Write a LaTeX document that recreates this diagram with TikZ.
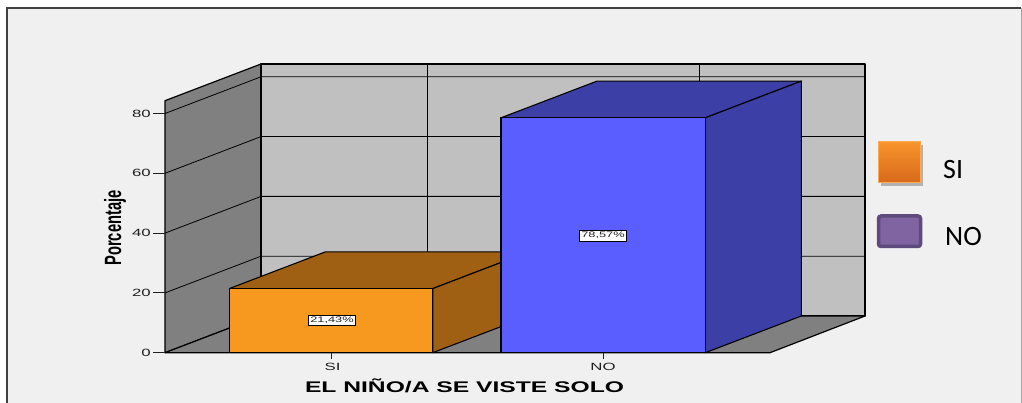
\documentclass[tikz,border=0pt]{standalone}
\usepackage{fontspec}
\setmainfont{Liberation Sans}
\newfontfamily\legfont{Carlito}
\newcommand{\sx}[1]{\scalebox{1.6}[1]{#1}}
\definecolor{bgc}{HTML}{F0F0F0}
\definecolor{sidewall}{HTML}{808080}
\definecolor{backwall}{HTML}{C0C0C0}
\definecolor{orfront}{HTML}{F7981F}
\definecolor{ordark}{HTML}{A06014}
\definecolor{blfront}{HTML}{5B5EFF}
\definecolor{bldark}{HTML}{3C40A6}
\definecolor{legor1}{HTML}{F8952C}
\definecolor{legor2}{HTML}{D8691C}
\definecolor{legpu}{HTML}{8064A2}
\definecolor{legpud}{HTML}{5E4A7C}
\definecolor{txt}{HTML}{202020}
\begin{document}
\begin{tikzpicture}[x=1pt,y=-1pt,
  wall/.style={draw=black,line width=1.2pt,line join=round},
  gridl/.style={draw=black,line width=0.8pt},
  barface/.style={draw=black,line width=1.1pt,line join=round},
  ticklab/.style={font=\fontsize{10.5}{12}\selectfont,text=txt,inner sep=0pt},
  barlab/.style={font=\fontsize{8}{9}\selectfont,text=txt,fill=white,draw=black,line width=0.9pt,inner xsep=1.5pt,inner ysep=2pt},
  legtext/.style={font=\legfont\fontsize{28}{30}\selectfont,anchor=west,inner sep=0pt}]
\useasboundingbox (0,0) rectangle (1022,403);
\fill[white] (0,0) rectangle (1022,403);
\fill[bgc] (7,8) rectangle (1021,404);
\draw[line width=1.2pt,draw=black!75] (7,404) -- (7,8) -- (1021,8);
\draw[line width=1pt,draw=black!35] (1021,8) -- (1021,404);
% walls
\filldraw[wall,fill=sidewall] (165,352.7) -- (165,100.7) -- (261,64) -- (261,316) -- cycle;
\filldraw[wall,fill=backwall] (261,64) rectangle (865,316);
\filldraw[wall,fill=sidewall] (165,352.7) -- (261,316) -- (865,316) -- (770,352.7) -- cycle;
% grid lines
\foreach \v in {20,40,60,80}
  \draw[gridl] (165,{352.7-\v*2.99}) -- (261,{316-\v*2.99}) -- (865,{316-\v*2.99});
\draw[gridl] (427,64) -- (427,316);
\draw[gridl] (699,64) -- (699,316);
% y ticks
\foreach \v in {0,20,40,60,80}{
  \draw[line width=1pt,draw=txt] (153,{352.7-\v*2.99}) -- (165,{352.7-\v*2.99});
  \node[ticklab,anchor=east] (tick\v) at (151,{352.7-\v*2.99}) {\sx{\v}};
}
% orange bar
\filldraw[barface,fill=ordark] (229.3,288.6) -- (325.3,251.9) -- (528.7,251.9) -- (432.7,288.6) -- cycle;
\filldraw[barface,fill=ordark] (432.7,288.6) -- (528.7,251.9) -- (528.7,316) -- (432.7,352.7) -- cycle;
\filldraw[barface,fill=orfront] (229.3,288.6) rectangle (432.7,352.7);
% blue bar
\filldraw[barface,fill=bldark] (501,117.8) -- (597,81.1) -- (801.3,81.1) -- (705.3,117.8) -- cycle;
\filldraw[barface,fill=bldark] (705.3,117.8) -- (801.3,81.1) -- (801.3,316) -- (705.3,352.7) -- cycle;
\filldraw[barface,fill=blfront] (501,117.8) rectangle (705.3,352.7);
% bar labels
\node[barlab] (lab1) at (332,320.5) {\sx{21,43\%}};
\node[barlab] (lab2) at (603,235.7) {\sx{78,57\%}};
% category ticks
\draw[line width=1pt,draw=txt] (331,352.7) -- (331,358.5);
\draw[line width=1pt,draw=txt] (603,352.7) -- (603,358.5);
\node[ticklab] (catSI) at (332.5,367) {\sx{SI}};
\node[ticklab] (catNO) at (603,367) {\sx{NO}};
% axis titles
\node[font=\bfseries\fontsize{14.7}{16}\selectfont,text=black,inner sep=0pt,rotate=90] (ytitle) at (115,228) {\scalebox{1}[1.6]{Porcentaje}};
\node[font=\bfseries\fontsize{15.4}{17}\selectfont,text=black,inner sep=0pt] (xtitle) at (464.5,385.5) {\sx{EL NIÑO/A SE VISTE SOLO}};
% legend
\fill[black!30] (881,145) rectangle (923,186);
\shade[top color=legor1,bottom color=legor2,draw=legor1!80!white,line width=0.8pt] (878,141.7) rectangle (920,182.7);
\filldraw[fill=legpu,draw=legpud,line width=3.5pt,rounded corners=2.5pt] (878.5,216) rectangle (920.5,246.5);
\node[legtext] (legSI) at (943,170) {SI};
\node[legtext] (legNO) at (945,237) {NO};
\end{tikzpicture}
\end{document}
